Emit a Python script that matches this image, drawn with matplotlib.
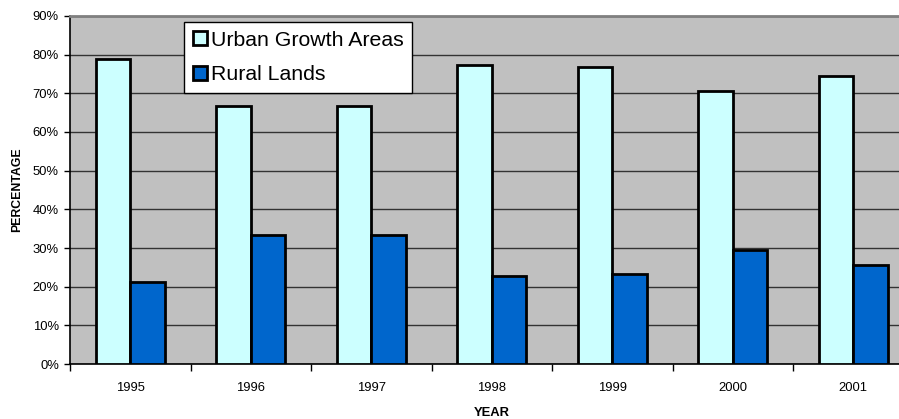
import matplotlib
matplotlib.use("Agg")
import matplotlib.pyplot as plt
import numpy as np
from matplotlib.ticker import FuncFormatter

years = ["1995", "1996", "1997", "1998", "1999", "2000", "2001"]
urban = [78.8, 66.7, 66.7, 77.3, 76.7, 70.5, 74.5]
rural = [21.2, 33.3, 33.3, 22.7, 23.3, 29.5, 25.5]

plt.rcParams["font.family"] = ["Liberation Sans", "DejaVu Sans"]

fig = plt.figure(figsize=(8.99, 4.19), dpi=100)
W, H = 899, 419
left, right, top, bottom = 70, 913.5, 16, 364
ax = fig.add_axes([left / W, 1 - bottom / H, (right - left) / W, (bottom - top) / H])
ax.set_facecolor("#C0C0C0")

x = np.arange(len(years))
bw = 1 / 3.5
ax.bar(x - bw / 2, urban, bw, color="#CCFFFF", edgecolor="black", linewidth=2,
       label="Urban Growth Areas", zorder=3)
ax.bar(x + bw / 2, rural, bw, color="#0066CC", edgecolor="black", linewidth=2,
       label="Rural Lands", zorder=3)

ax.set_xlim(-0.5, len(years) - 0.5)
ax.set_ylim(0, 90)
ax.set_yticks(np.arange(0, 91, 10))
ax.yaxis.set_major_formatter(FuncFormatter(lambda v, p: f"{v:.0f}%"))
ax.yaxis.grid(True, color="#333333", linewidth=1, zorder=1)
ax.set_axisbelow(True)

ax.set_xticks(x)
ax.set_xticklabels(years, fontsize=9.4)
ax.set_xticks(np.arange(-0.5, len(years)), minor=True)
ax.tick_params(axis="x", which="major", length=0, pad=13)
ax.tick_params(axis="x", which="minor", length=5, width=1, direction="out")
ax.tick_params(axis="y", length=4, width=1, labelsize=9.4, pad=4)

for s in ("left", "bottom"):
    ax.spines[s].set_color("black")
    ax.spines[s].set_linewidth(1.2)
ax.spines["top"].set_color("#808080")
ax.spines["top"].set_linewidth(2)
ax.spines["right"].set_visible(False)

ax.set_ylabel("PERCENTAGE", fontsize=8.8, fontweight="bold")
ax.yaxis.set_label_coords(-(left - 17) / (right - left), 0.5)
ax.set_xlabel("YEAR", fontsize=9.4, fontweight="bold")
ax.xaxis.set_label_coords(0.5, -(413 - bottom) / (bottom - top))
ax.xaxis.label.set_va("center")
ax.yaxis.label.set_va("center")

leg = ax.legend(loc="upper left", bbox_to_anchor=((184 - left) / (right - left), 1 - (22 - top) / (bottom - top)),
                prop={"size": 15.3}, frameon=True, fancybox=False, borderpad=0.4, labelspacing=0.75,
                handlelength=0.7, handleheight=0.7, handletextpad=0.15, borderaxespad=0)
leg.get_frame().set_edgecolor("black")
leg.get_frame().set_linewidth(1)
leg.get_frame().set_facecolor("white")
leg.get_frame().set_alpha(1)

fig.savefig("out.png", dpi=100)
